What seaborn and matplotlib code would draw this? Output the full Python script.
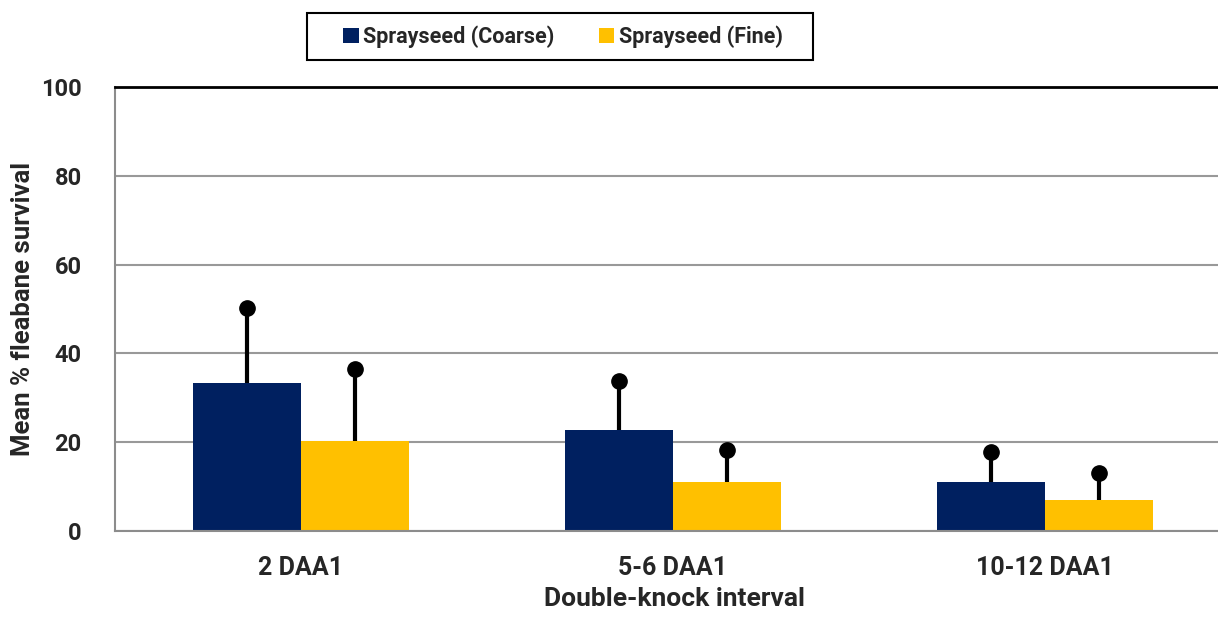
import matplotlib
matplotlib.use("Agg")
import matplotlib.pyplot as plt
from matplotlib.patches import Rectangle
import seaborn as sns
import pandas as pd
import numpy as np

categories = ["2 DAA1", "5-6 DAA1", "10-12 DAA1"]
series_names = ["Sprayseed (Coarse)", "Sprayseed (Fine)"]
coarse_mean = [33.4, 22.7, 11.1]
coarse_err = [16.9, 11.1, 6.7]
fine_mean = [20.2, 11.1, 6.9]
fine_err = [16.2, 7.1, 6.1]
colors = ["#002060", "#FFC000"]
y_ticks = [0, 20, 40, 60, 80, 100]

df = pd.DataFrame({
    "interval": categories * 2,
    "series": [series_names[0]] * 3 + [series_names[1]] * 3,
    "mean": coarse_mean + fine_mean,
    "err": coarse_err + fine_err,
})

sns.set_theme(style="white")
plt.rcParams["font.family"] = ["Roboto", "DejaVu Sans"]
plt.rcParams["font.weight"] = "bold"

W, H = 1218, 623
fig = plt.figure(figsize=(W / 100, H / 100), dpi=100)
ax = fig.add_axes([115 / W, 1 - 531 / H, (1231 - 115) / W, (531 - 87) / H])

sns.barplot(data=df, x="interval", y="mean", hue="series", order=categories,
            hue_order=series_names, palette=colors, width=0.58, saturation=1,
            errorbar=None, ax=ax, legend=True, linewidth=0)

# error bars (upper only) with round caps
for container, errs in zip(ax.containers, [coarse_err, fine_err]):
    for patch, e in zip(container.patches, errs):
        xc = patch.get_x() + patch.get_width() / 2
        top = patch.get_height()
        ax.errorbar([xc], [top + e], yerr=[[e], [0]], fmt="o", color="black",
                    ms=11, elinewidth=3, capsize=0, zorder=5)

ax.set_ylim(0, 100)
ax.set_xlim(-0.5, 2.5)
ax.set_yticks(y_ticks)
ax.yaxis.grid(True, color="#999999", linewidth=1.5)
ax.set_axisbelow(True)
ax.tick_params(axis="both", length=0)
ax.tick_params(axis="y", pad=24, labelsize=17)
ax.tick_params(axis="x", pad=18, labelsize=18)
for lab in ax.get_xticklabels() + ax.get_yticklabels():
    lab.set_fontweight("bold")

for side in ["left", "bottom"]:
    ax.spines[side].set_color("#8c8c8c")
    ax.spines[side].set_linewidth(1.5)
ax.spines["right"].set_visible(False)
ax.spines["top"].set_color("black")
ax.spines["top"].set_linewidth(2)

ax.set_ylabel("Mean % fleabane survival", fontsize=18.5, fontweight="bold")
ax.set_xlabel("Double-knock interval", fontsize=19, fontweight="bold")
ax.yaxis.set_label_coords(-80 / 1116, 0.5)
ax.xaxis.set_label_coords((674 - 115) / 1116, -56 / 444)

handles, labels = ax.get_legend_handles_labels()
ax.get_legend().remove()
leg = fig.legend(handles, labels, loc="center", bbox_to_anchor=(563 / W, 1 - 37 / H),
                 ncol=2, frameon=False,
                 prop={"size": 15.5, "weight": "bold"}, handlelength=0.7, handleheight=0.7,
                 handletextpad=0.2, columnspacing=2.1, borderpad=0, borderaxespad=0)
fig.patches.append(Rectangle((307 / W, 1 - 60 / H), (813 - 307) / W, 47 / H,
                             transform=fig.transFigure, fill=False,
                             edgecolor="black", linewidth=1.5, zorder=0))

fig.savefig("out.png", dpi=100)
